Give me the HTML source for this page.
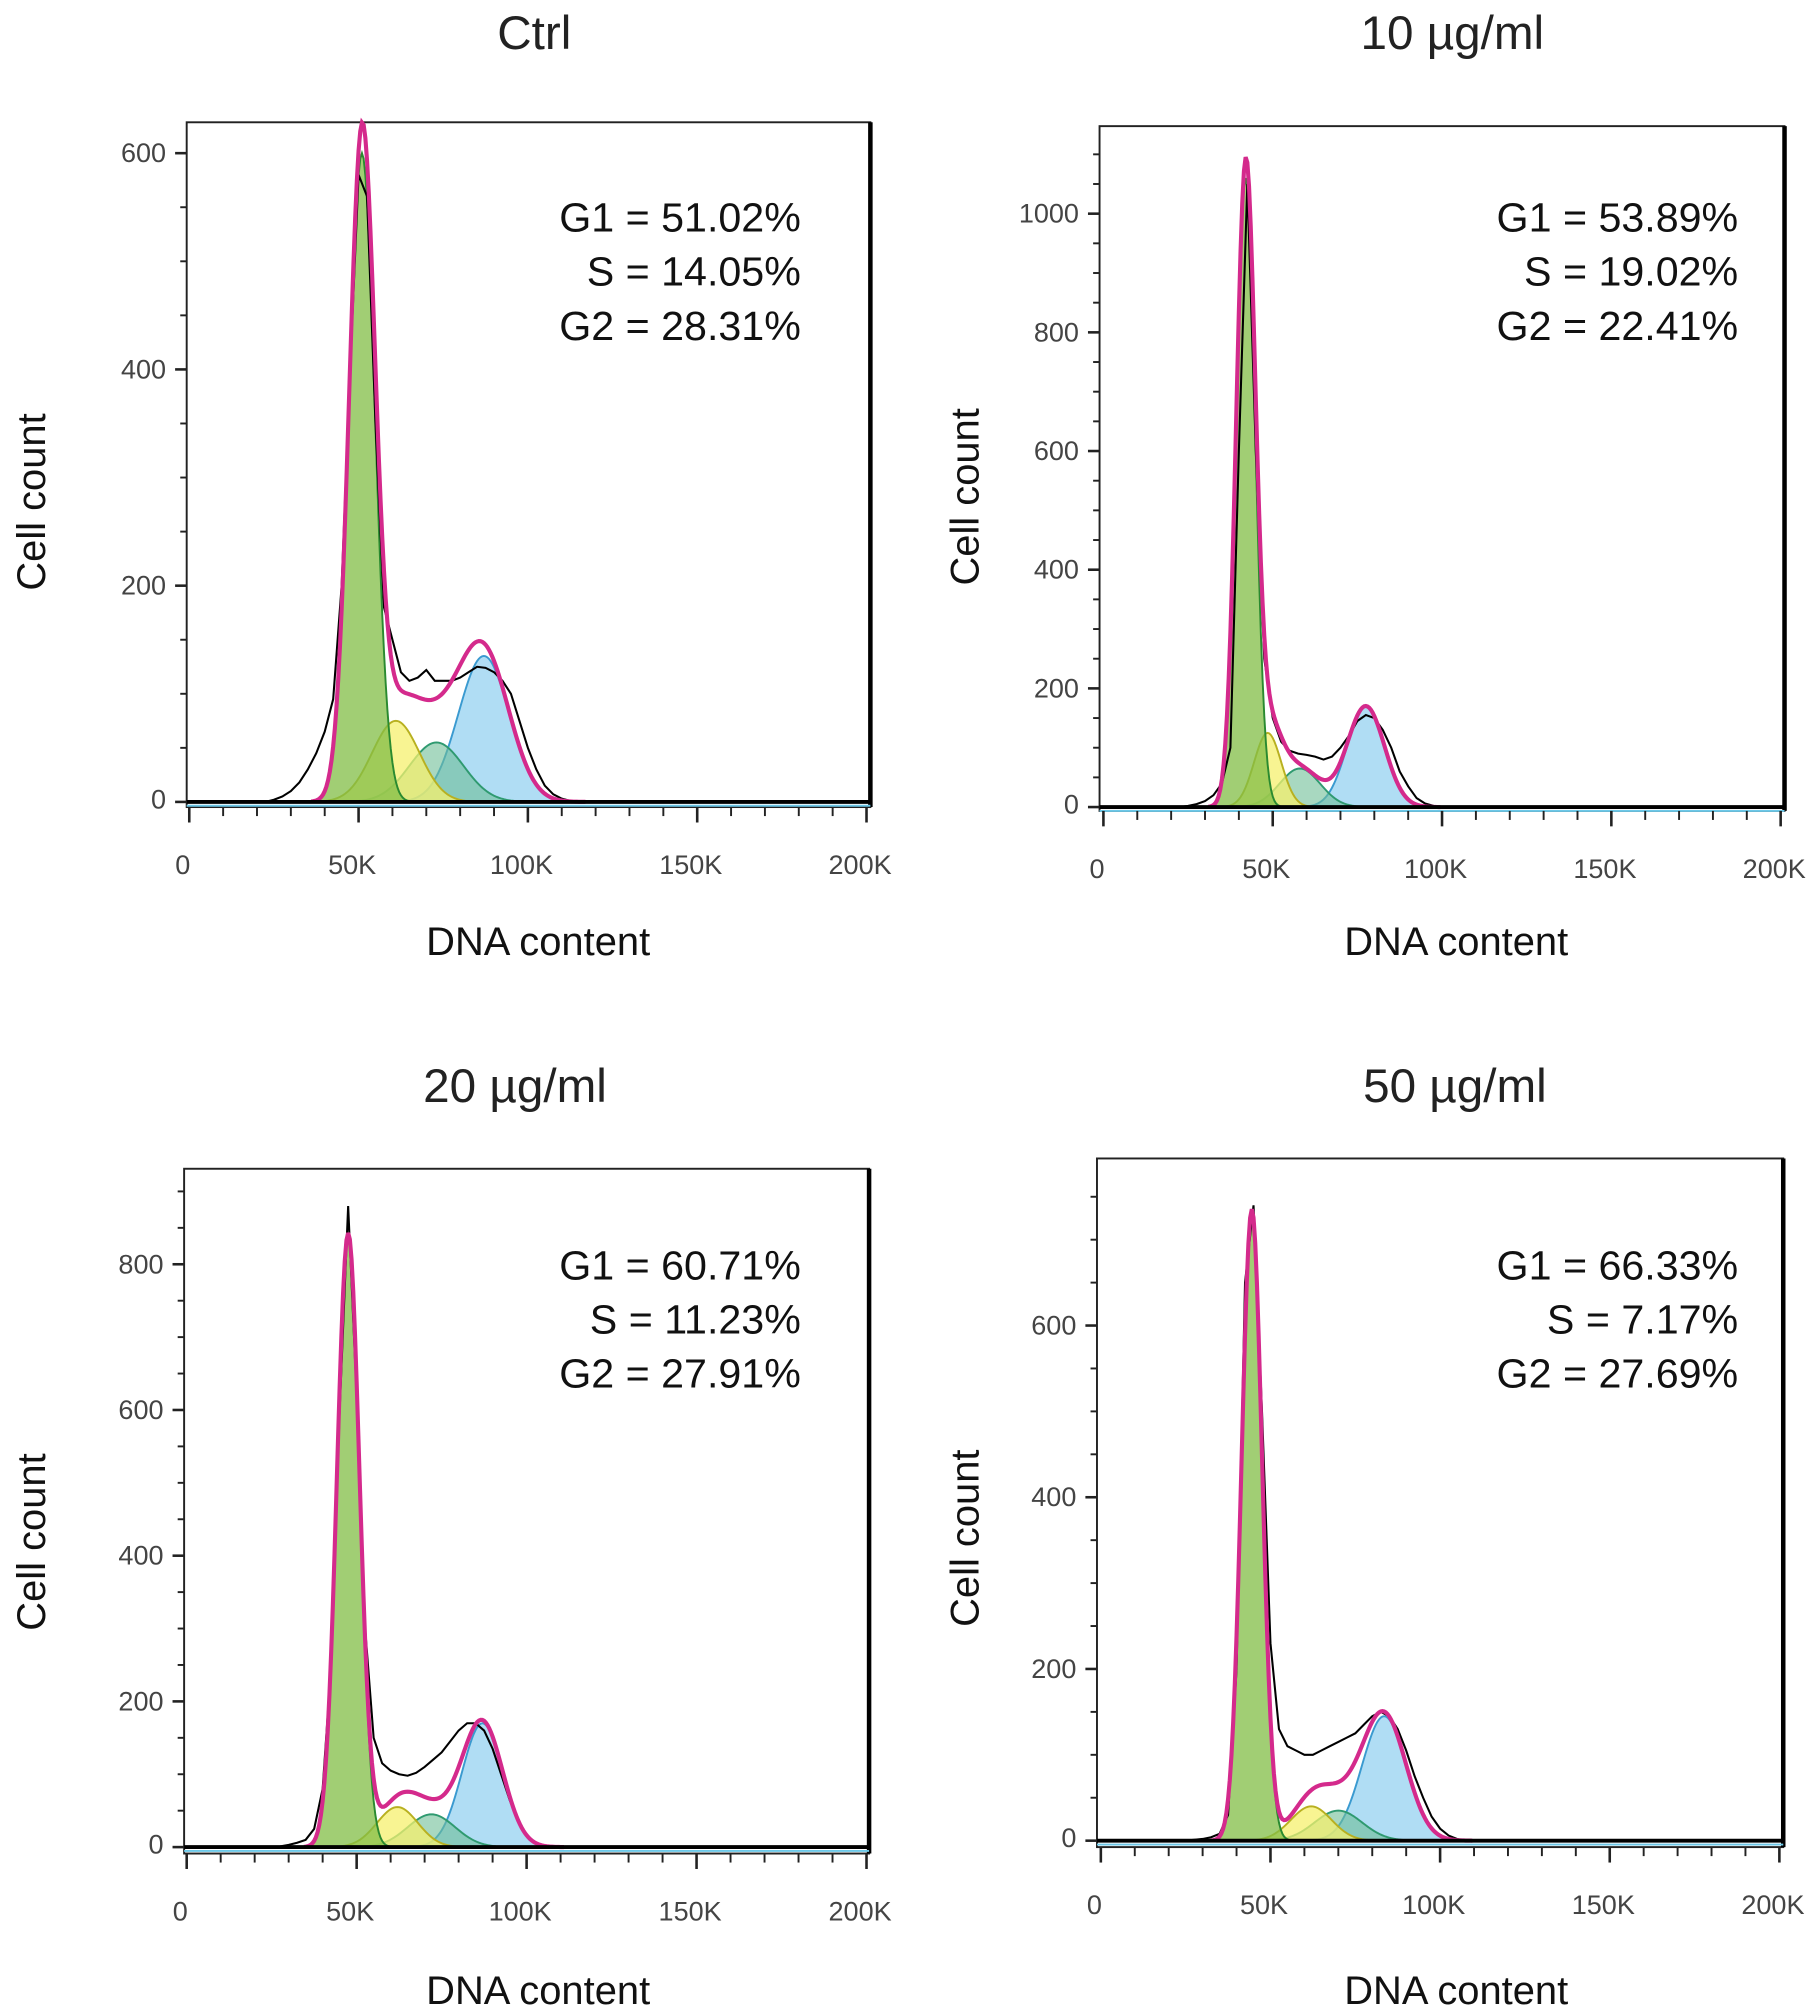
<!DOCTYPE html>
<html><head><meta charset="utf-8">
<style>
html,body{margin:0;padding:0;background:#fff;}
svg{display:block;}
.tick{font-family:"Liberation Sans Narrow","Liberation Sans",sans-serif;font-size:21px;fill:#444;}
.ttl{font-family:"Liberation Sans",sans-serif;font-size:37px;fill:#222;}
.stat{font-family:"Liberation Sans",sans-serif;font-size:32px;fill:#111;}
.axl{font-family:"Liberation Sans",sans-serif;font-size:31px;fill:#111;}
</style></head>
<body>
<svg id="fig" width="1818" height="2008" viewBox="0 0 1412 1560" preserveAspectRatio="none" xmlns="http://www.w3.org/2000/svg"></svg>
<script>
// ---- data (x in K, counts) ----
const xSamples = [20,22.5,25,27.5,30,32.5,35,37.5,40,42.5,45,47.5,50,52.5,55,57.5,60,62.5,65,67.5,70,72.5,75,77.5,80,82.5,85,87.5,90,92.5,95,97.5,100,102.5,105,107.5,110,112.5,115,117.5,120];
const ctrlMeasured = [0,0,2,5,10,18,30,45,65,95,200,400,580,560,350,180,150,120,112,115,122,112,112,112,115,120,125,124,120,112,100,75,50,30,15,7,3,1,0,0,0];
const d10Measured = [0,0,2,5,10,20,40,100,600,1050,600,250,150,110,95,90,88,85,80,85,100,120,145,155,150,130,100,60,35,15,6,2,0,0,0,0,0,0,0,0,0];
const d20Measured = [0,0,0,1,3,6,10,25,80,250,600,880,620,300,150,115,105,100,98,102,110,120,130,145,160,170,170,160,135,100,65,35,15,6,2,0,0,0,0,0,0];
const d50Measured = [0,0,0,1,2,4,8,30,200,650,740,500,230,130,110,105,100,100,105,110,115,120,125,135,145,150,145,130,105,75,50,28,14,6,2,0,0,0,0,0,0];
// fitted components: [mean K, sd K, height]
const ctrlG1=[51,3.8,600], ctrlS1=[61,7,75], ctrlS2=[73,8,55], ctrlG2=[87,7.5,135];
const d10G1=[42,2.8,1060], d10S1=[48.5,4,125], d10S2=[58,6,65], d10G2=[77.5,5.5,170];
const d20G1=[47.5,3.3,840], d20S1=[62,6,55], d20S2=[72,7,45], d20G2=[87,6,170];
const d50G1=[44.5,3,735], d50S1=[62,6,40], d50S2=[70,7,35], d50G2=[83.5,6.5,145];
const xTicks=[0,50,100,150,200];
const xTickLabels=["0","50K","100K","150K","200K"];
const ctrlYTicks=[0,200,400,600], d10YTicks=[0,200,400,600,800,1000], d20YTicks=[0,200,400,600,800], d50YTicks=[0,200,400,600];
const titles=["Ctrl","10 µg/ml","20 µg/ml","50 µg/ml"];
const statsCtrl=["G1 = 51.02%","S = 14.05%","G2 = 28.31%"];
const stats10=["G1 = 53.89%","S = 19.02%","G2 = 22.41%"];
const stats20=["G1 = 60.71%","S = 11.23%","G2 = 27.91%"];
const stats50=["G1 = 66.33%","S = 7.17%","G2 = 27.69%"];

const NS="http://www.w3.org/2000/svg";
const fig=document.getElementById('fig');
function mk(tag,attrs,parent){const e=document.createElementNS(NS,tag);for(const k in attrs)e.setAttribute(k,attrs[k]);(parent||fig).appendChild(e);return e;}
function gauss(p,x){return p[2]*Math.exp(-((x-p[0])*(x-p[0]))/(2*p[1]*p[1]));}

const panels=[
 {name:'ctrl',title:titles[0],stats:statsCtrl,meas:ctrlMeasured,G1:ctrlG1,S1:ctrlS1,S2:ctrlS2,G2:ctrlG2,yt:ctrlYTicks,
  bx0:145,bx1:676,by0:95,by1:627,x0:147,x1:673,y0:623,tx:415,ty:38,sx:622,cx:25,cy:380,dx:418,dy:742},
 {name:'dose-10',title:titles[1],stats:stats10,meas:d10Measured,G1:d10G1,S1:d10S1,S2:d10S2,G2:d10G2,yt:d10YTicks,
  bx0:854,bx1:1386,by0:98,by1:630,x0:857,x1:1383,y0:627,tx:1128,ty:38,sx:1350,cx:750,cy:376,dx:1131,dy:742},
 {name:'dose-20',title:titles[2],stats:stats20,meas:d20Measured,G1:d20G1,S1:d20S1,S2:d20S2,G2:d20G2,yt:d20YTicks,
  bx0:143,bx1:675,by0:908,by1:1440,x0:145,x1:673,y0:1435,tx:400,ty:856,sx:622,cx:25,cy:1188,dx:418,dy:1557},
 {name:'dose-50',title:titles[3],stats:stats50,meas:d50Measured,G1:d50G1,S1:d50S1,S2:d50S2,G2:d50G2,yt:d50YTicks,
  bx0:852,bx1:1385,by0:900,by1:1435,x0:855,x1:1382,y0:1430,tx:1130,ty:856,sx:1350,cx:750,cy:1185,dx:1131,dy:1557}
];
const scaleY={ctrl:0.84,'dose-10':0.461,'dose-20':0.566,'dose-50':0.667};

panels.forEach(P=>{
  const g=mk('g',{});
  
  
  const sy=scaleY[P.name];
  const X=v=>P.x0+(v/200)*(P.x1-P.x0);
  const Y=v=>P.y0-v*sy;
  const t=mk('text',{x:P.tx,y:P.ty,'text-anchor':'middle',class:'ttl'},g);t.textContent=P.title;
  
  
  mk('rect',{x:P.bx0,y:P.by0,width:P.bx1-P.bx0,height:P.by1-P.by0,fill:'#fff',stroke:'#222','stroke-width':1.5},g);
  mk('line',{x1:P.bx1,y1:P.by0,x2:P.bx1,y2:P.by1,stroke:'#000','stroke-width':3.5},g);
  const gx=[];for(let v=0;v<=200;v+=0.5)gx.push(v);
  function area(p,fill,stroke,nm){
    let d='M'+X(gx[0])+','+Y(0);
    gx.forEach(v=>{d+=' L'+X(v).toFixed(2)+','+Y(gauss(p,v)).toFixed(2);});
    d+=' L'+X(200)+','+Y(0)+'Z';
    const a=mk('path',{d:d,fill:fill,stroke:stroke,'stroke-width':1.5},g);
    
    
  }
  area(P.G2,'rgba(150,210,240,0.75)','#3a9ad0','g2-fit');
  area(P.S2,'rgba(110,190,150,0.6)','#2f9a70','s-phase-fit-late');
  area(P.S1,'rgba(245,240,110,0.75)','#b8b020','s-phase-fit-early');
  area(P.G1,'rgba(130,190,70,0.75)','#2a8a30','g1-fit');
  let dm='M'+X(0)+','+Y(0)+' L'+X(xSamples[0])+','+Y(P.meas[0]);
  xSamples.forEach((v,i)=>{dm+=' L'+X(v).toFixed(2)+','+Y(P.meas[i]).toFixed(2);});
  dm+=' L'+X(200)+','+Y(0);
  const m=mk('path',{d:dm,fill:'none',stroke:'#000','stroke-width':1.6},g);
  
  
  let df='';
  gx.filter(v=>v>=P.G1[0]-4*P.G1[1]&&v<=P.G2[0]+4*P.G2[1]).forEach((v,i)=>{
    const s=gauss(P.G1,v)+gauss(P.S1,v)+gauss(P.S2,v)+gauss(P.G2,v);
    df+=(i?' L':'M')+X(v).toFixed(2)+','+Y(s).toFixed(2);});
  const f=mk('path',{d:df,fill:'none',stroke:'#d42a8c','stroke-width':3.2},g);
  
  
  mk('line',{x1:P.bx0,y1:P.y0,x2:P.bx1,y2:P.y0,stroke:'#000','stroke-width':3},g);
  mk('line',{x1:P.bx0,y1:P.y0+3,x2:P.bx1,y2:P.y0+3,stroke:'#6cc8e8','stroke-width':1.5},g);
  for(let v=0;v<=200;v+=10){const maj=v%50===0;
    mk('line',{x1:X(v),y1:P.by1,x2:X(v),y2:P.by1+(maj?12:7),stroke:'#222','stroke-width':maj?2:1.5},g);}
  xTicks.forEach((v,i)=>{const tl=mk('text',{x:X(v)-5,y:P.by1+52,'text-anchor':'middle',class:'tick'},g);tl.textContent=xTickLabels[i];
    
    });
  for(let v=0;Y(v)>=P.by0+2;v+=50){const maj=v%200===0;
    mk('line',{x1:P.bx0,y1:Y(v),x2:P.bx0-(maj?9:5),y2:Y(v),stroke:'#222','stroke-width':maj?2:1.5},g);}
  P.yt.forEach(v=>{const tl=mk('text',{x:P.bx0-16,y:Y(v)+7-(v===0?2:0),'text-anchor':'end',class:'tick'},g);tl.textContent=String(v);
    
    });
  P.stats.forEach((s,i)=>{const st=mk('text',{x:P.sx,y:180+42*i+(P.by0>500?814:0),'text-anchor':'end',class:'stat'},g);st.textContent=s;
    
    });
  const yl=mk('text',{x:P.cx,y:P.cy,'text-anchor':'middle',class:'axl',transform:'rotate(-90 '+(P.cx+10)+' '+P.cy+')'},g);yl.textContent='Cell count';
  
  
  const xl=mk('text',{x:P.dx,y:P.dy,'text-anchor':'middle',class:'axl'},g);xl.textContent='DNA content';
  
  
});
</script>
</body></html>
